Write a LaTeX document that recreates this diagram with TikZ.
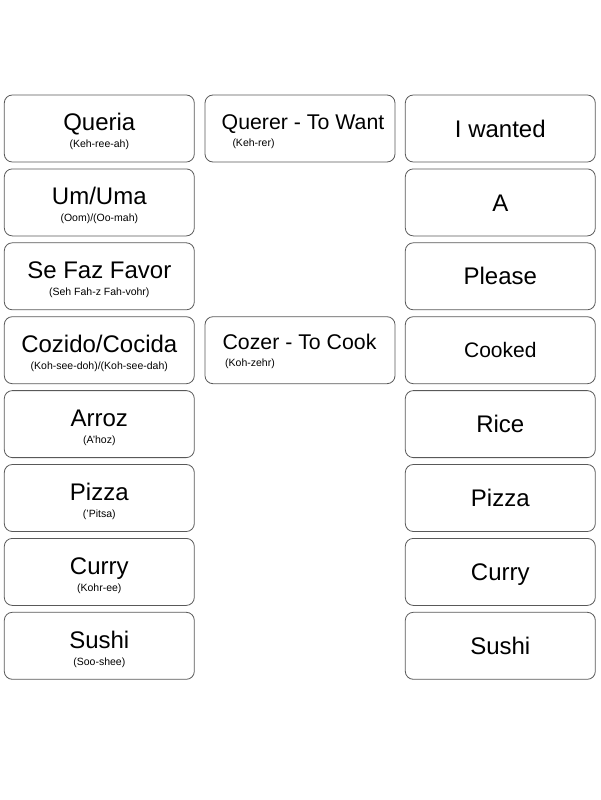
\documentclass[tikz,border=0pt]{standalone}
\usepackage{fontspec}
\setmainfont{Liberation Sans}
\begin{document}
\begin{tikzpicture}[x=1pt,y=-1pt]
  \tikzstyle{card}=[draw=black!65,line width=0.8pt,rounded corners=8pt,minimum width=190pt,minimum height=67pt,inner sep=0pt]
  \tikzstyle{answer}=[card,font=\fontsize{24}{24}\selectfont,text height=17.2pt,text depth=0pt]
  \tikzstyle{word}=[font=\fontsize{24}{24}\selectfont,anchor=base,inner sep=0pt]
  \tikzstyle{verb}=[font=\fontsize{21.3}{21.3}\selectfont,anchor=base,inner sep=0pt]
  \tikzstyle{say}=[font=\fontsize{10.5}{10.5}\selectfont,anchor=base,inner sep=0pt]
  \useasboundingbox (0,0) rectangle (600,800);
  % Portuguese words
  \node[card] (queria) at (99.3,128.5) {};
  \node[word] (queriaW) at (99.3,130.7) {Queria};
  \node[say] (queriaS) at (99.3,147.7) {(Keh-ree-ah)};
  \node[card] (um) at (99.3,202.4) {};
  \node[word] (umW) at (99.3,204.6) {Um/Uma};
  \node[say] (umS) at (99.3,221.6) {(Oom)/(Oo-mah)};
  \node[card] (faz) at (99.3,276.3) {};
  \node[word] (fazW) at (99.3,278.5) {Se Faz Favor};
  \node[say] (fazS) at (99.3,295.5) {(Seh Fah-z Fah-vohr)};
  \node[card] (cozido) at (99.3,350.2) {};
  \node[word] (cozidoW) at (99.3,352.4) {Cozido/Cocida};
  \node[say] (cozidoS) at (99.3,369.4) {(Koh-see-doh)/(Koh-see-dah)};
  \node[card] (arroz) at (99.3,424.1) {};
  \node[word] (arrozW) at (99.3,426.3) {Arroz};
  \node[say] (arrozS) at (99.3,443.3) {(A'hoz)};
  \node[card] (pizza) at (99.3,498.0) {};
  \node[word] (pizzaW) at (99.3,500.2) {Pizza};
  \node[say] (pizzaS) at (99.3,517.2) {('Pitsa)};
  \node[card] (curry) at (99.3,571.9) {};
  \node[word] (curryW) at (99.3,574.1) {Curry};
  \node[say] (curryS) at (99.3,591.1) {(Kohr-ee)};
  \node[card] (sushi) at (99.3,645.8) {};
  \node[word] (sushiW) at (99.3,648.0) {Sushi};
  \node[say] (sushiS) at (99.3,665.0) {(Soo-shee)};
  % verbs
  \node[card] (querer) at (300,128.5) {};
  \node[verb] (quererW) at (303,129.8) {Querer - To Want};
  \node[say,anchor=base west] (quererS) at (232.3,146.7) {(Keh-rer)};
  \node[card] (cozer) at (300,350.2) {};
  \node[verb] (cozerW) at (299.5,349.3) {Cozer - To Cook};
  \node[say,anchor=base west] (cozerS) at (225,366.7) {(Koh-zehr)};
  % English
  \node[answer] (wanted) at (500.3,128.5) {I wanted};
  \node[answer] (a) at (500.3,202.4) {A};
  \node[answer] (please) at (500.3,276.3) {Please};
  \node[answer,font=\fontsize{21}{21}\selectfont,text height=15pt] (cooked) at (500.3,350.2) {Cooked};
  \node[answer] (rice) at (500.3,424.1) {Rice};
  \node[answer] (pizzaE) at (500.3,498.0) {Pizza};
  \node[answer] (curryE) at (500.3,571.9) {Curry};
  \node[answer] (sushiE) at (500.3,645.8) {Sushi};
\end{tikzpicture}
\end{document}
